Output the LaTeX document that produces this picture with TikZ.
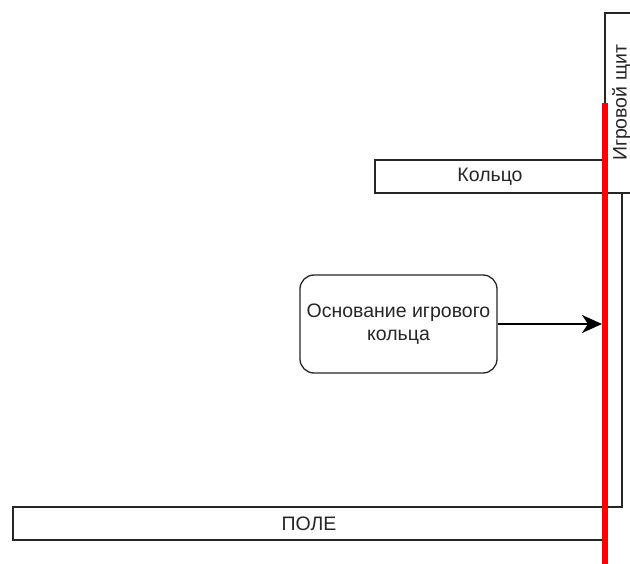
\documentclass[tikz,border=0pt]{standalone}
\usepackage{fontspec}
\setmainfont{Liberation Sans}
\usetikzlibrary{arrows.meta}

\begin{document}
\begin{tikzpicture}[
    x=1pt, y=-1pt,
    box/.style={rectangle, draw=black!85, line width=1.3pt, fill=white, inner sep=0pt,
                text=black!85, font=\fontsize{19.5}{23}\selectfont, align=center},
    roundbox/.style={box, rounded corners=14pt},
    redline/.style={draw=red, line width=6pt},
    arrow/.style={-{Stealth[length=20pt, width=18pt, inset=6pt]}, line width=2.6pt}
]

\clip (0,0) rectangle (630,564);

\node[box, rotate=90, minimum width=180pt, minimum height=33pt] (shield) at (621.5,103) {Игровой щит};
\node[box, minimum width=230pt, minimum height=33pt] (ring) at (490,176.5) {Кольцо};
\node[box, minimum width=17pt, minimum height=314pt] (stand) at (613.5,350) {};
\node[box, minimum width=592pt, minimum height=33pt] (field) at (309,523.5) {ПОЛЕ};

\node[roundbox, minimum width=197pt, minimum height=98pt] (base) at (398.5,324) {Основание игрового\\кольца};

\coordinate (redtop) at (605,103);
\coordinate (redbot) at (605,570);
\draw[redline] (redtop) -- (redbot);

\draw[arrow, shorten >=3pt] (base) -- (base -| redtop);

\end{tikzpicture}
\end{document}
